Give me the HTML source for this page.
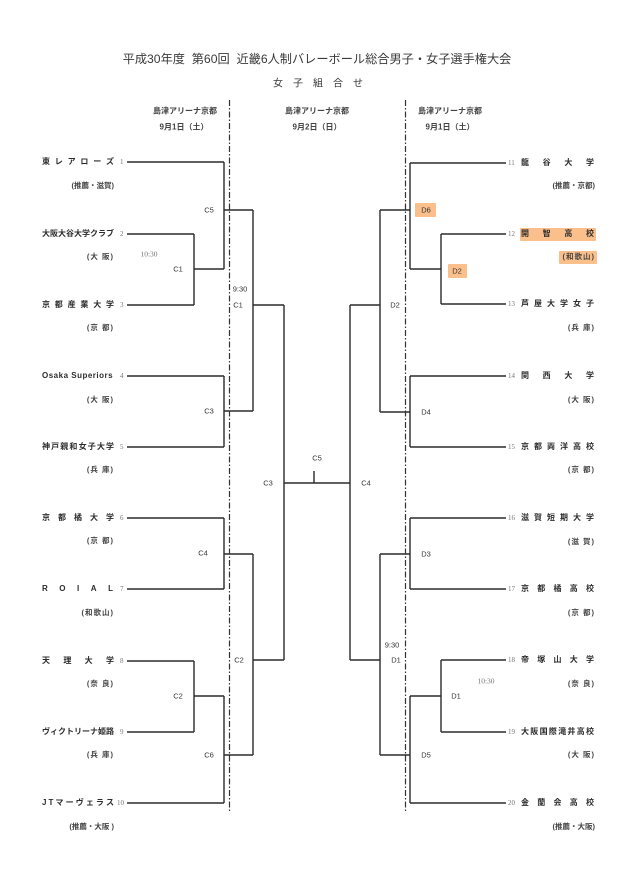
<!DOCTYPE html>
<html><head><meta charset="utf-8">
<style>
html,body{margin:0;padding:0;background:#fff;}
body{width:640px;height:887px;position:relative;overflow:hidden;font-family:"Liberation Sans","Noto Sans CJK JP",sans-serif;color:#333;}
.a{position:absolute;white-space:nowrap;}
.c{position:absolute;white-space:nowrap;transform:translate(-50%,-50%);}
.n{position:absolute;display:flex;justify-content:space-between;font-weight:bold;font-size:8px;height:10px;line-height:10px;color:#2d2d2d;white-space:nowrap;}
.nl{left:42px;width:72px;}
.nr{left:521px;width:73px;}
.num{position:absolute;font-family:"Liberation Serif",serif;font-size:7px;color:#777;height:10px;line-height:10px;}
.s{position:absolute;font-size:7.5px;font-weight:bold;color:#444;height:10px;line-height:10px;text-align:right;letter-spacing:1px;white-space:nowrap;}
.sl{right:526px;}
.sr{right:45px;}
.lb{position:absolute;white-space:nowrap;transform:translate(-50%,-50%);font-size:7.5px;color:#333;}
.tm{position:absolute;white-space:nowrap;transform:translate(-50%,-50%);font-size:7.5px;color:#777;font-family:"Liberation Serif",serif;}
.hl{position:absolute;background:#fbbf8c;border-radius:1px;}
</style></head><body>

<!-- highlights -->
<div class="hl" style="left:415px;top:203px;width:21px;height:14px;"></div>
<div class="hl" style="left:448px;top:264px;width:19px;height:14px;"></div>
<div class="hl" style="left:520px;top:228px;width:76px;height:13px;"></div>
<div class="hl" style="left:559px;top:251px;width:38px;height:13px;"></div>

<svg class="a" style="left:0;top:0" width="640" height="887" viewBox="0 0 640 887">
<g stroke="#2b2b2b" stroke-width="1.4" fill="none">
<!-- left team lines -->
<path d="M127 162H224 M127 234H194 M127 305H194 M127 376H224 M127 447H224 M127 518H224 M127 589H224 M127 661H194 M127 732H194 M127 803H224"/>
<path d="M194 234V305 M194 269H224 M224 162V269 M224 210H253"/>
<path d="M224 376V447 M224 411H253 M253 210V411 M253 305H284"/>
<path d="M224 518V589 M224 554H253 M194 661V732 M194 696H224 M224 696V803 M224 755H253 M253 554V755 M253 660H284"/>
<path d="M284 305V660 M284 483H350 M314 471V483"/>
<!-- right -->
<path d="M410 163H506 M441 234H506 M441 304H506 M410 376H506 M410 447H506 M410 518H506 M410 589H506 M441 660H506 M441 732H506 M410 803H506"/>
<path d="M441 234V304 M410 269H441 M410 163V269 M380 210H410"/>
<path d="M410 376V447 M380 412H410 M380 210V412 M350 305H380"/>
<path d="M410 518V589 M380 554H410 M441 660V732 M410 696H441 M410 696V803 M380 755H410 M380 554V755 M350 660H380"/>
<path d="M350 305V660"/>
</g>
<g stroke="#333" stroke-width="1.2" fill="none" stroke-dasharray="6 2 1.5 2">
<path d="M229.5 100V813 M405.5 100V813"/>
</g>
</svg>

<!-- header -->
<div class="c" style="left:317px;top:58px;font-size:12.2px;color:#3a3a3a;">平成30年度&nbsp; 第60回&nbsp; 近畿6人制バレーボール総合男子・女子選手権大会</div>
<div class="c" style="left:318px;top:82px;font-size:10px;color:#3a3a3a;letter-spacing:10px;padding-left:10px;">女子組合せ</div>

<div class="c" style="left:185px;top:111px;font-size:8px;font-weight:bold;color:#444;">島津アリーナ京都</div>
<div class="c" style="left:317px;top:111px;font-size:8px;font-weight:bold;color:#444;">島津アリーナ京都</div>
<div class="c" style="left:450px;top:111px;font-size:8px;font-weight:bold;color:#444;">島津アリーナ京都</div>
<div class="c" style="left:184px;top:127px;font-size:8px;font-weight:bold;color:#444;">9月1日（土）</div>
<div class="c" style="left:317px;top:127px;font-size:8px;font-weight:bold;color:#444;">9月2日（日）</div>
<div class="c" style="left:450px;top:127px;font-size:8px;font-weight:bold;color:#444;">9月1日（土）</div>

<!-- left teams -->
<div class="n nl" style="top:157px"><span>東</span><span>レ</span><span>ア</span><span>ロ</span><span>ー</span><span>ズ</span></div>
<div class="num" style="left:120px;top:157px">1</div>
<div class="s sl" style="top:181px;letter-spacing:0">(推薦・滋賀)</div>

<div class="n nl" style="top:229px"><span>大</span><span>阪</span><span>大</span><span>谷</span><span>大</span><span>学</span><span>ク</span><span>ラ</span><span>ブ</span></div>
<div class="num" style="left:120px;top:229px">2</div>
<div class="s sl" style="top:252px">(大 阪)</div>

<div class="n nl" style="top:300px"><span>京</span><span>都</span><span>産</span><span>業</span><span>大</span><span>学</span></div>
<div class="num" style="left:120px;top:300px">3</div>
<div class="s sl" style="top:323px">(京 都)</div>

<div class="n" style="left:42px;top:371px;letter-spacing:0.5px;display:block;width:auto;">Osaka Superiors</div>
<div class="num" style="left:120px;top:371px">4</div>
<div class="s sl" style="top:395px">(大 阪)</div>

<div class="n nl" style="top:442px"><span>神</span><span>戸</span><span>親</span><span>和</span><span>女</span><span>子</span><span>大</span><span>学</span></div>
<div class="num" style="left:120px;top:442px">5</div>
<div class="s sl" style="top:465px">(兵 庫)</div>

<div class="n nl" style="top:513px"><span>京</span><span>都</span><span>橘</span><span>大</span><span>学</span></div>
<div class="num" style="left:120px;top:513px">6</div>
<div class="s sl" style="top:536px">(京 都)</div>

<div class="n nl" style="top:584px;width:71px"><span>R</span><span>O</span><span>I</span><span>A</span><span>L</span></div>
<div class="num" style="left:120px;top:584px">7</div>
<div class="s sl" style="top:608px">(和歌山)</div>

<div class="n nl" style="top:656px"><span>天</span><span>理</span><span>大</span><span>学</span></div>
<div class="num" style="left:120px;top:656px">8</div>
<div class="s sl" style="top:679px">(奈 良)</div>

<div class="n nl" style="top:727px"><span>ヴ</span><span>ィ</span><span>ク</span><span>ト</span><span>リ</span><span>ー</span><span>ナ</span><span>姫</span><span>路</span></div>
<div class="num" style="left:120px;top:727px">9</div>
<div class="s sl" style="top:750px">(兵 庫)</div>

<div class="n nl" style="top:798px"><span>J</span><span>T</span><span>マ</span><span>ー</span><span>ヴ</span><span>ェ</span><span>ラ</span><span>ス</span></div>
<div class="num" style="left:117px;top:798px">10</div>
<div class="s sl" style="top:822px;letter-spacing:0">(推薦・大阪 )</div>

<!-- right teams -->
<div class="num" style="left:508px;top:158px">11</div>
<div class="n nr" style="top:158px"><span>龍</span><span>谷</span><span>大</span><span>学</span></div>
<div class="s sr" style="top:181px;letter-spacing:0">(推薦・京都)</div>

<div class="num" style="left:508px;top:229px">12</div>
<div class="n nr" style="top:229px"><span>開</span><span>智</span><span>高</span><span>校</span></div>
<div class="s sr" style="top:252px">(和歌山)</div>

<div class="num" style="left:508px;top:299px">13</div>
<div class="n nr" style="top:299px"><span>芦</span><span>屋</span><span>大</span><span>学</span><span>女</span><span>子</span></div>
<div class="s sr" style="top:323px">(兵 庫)</div>

<div class="num" style="left:508px;top:371px">14</div>
<div class="n nr" style="top:371px"><span>関</span><span>西</span><span>大</span><span>学</span></div>
<div class="s sr" style="top:395px">(大 阪)</div>

<div class="num" style="left:508px;top:442px">15</div>
<div class="n nr" style="top:442px"><span>京</span><span>都</span><span>両</span><span>洋</span><span>高</span><span>校</span></div>
<div class="s sr" style="top:465px">(京 都)</div>

<div class="num" style="left:508px;top:513px">16</div>
<div class="n nr" style="top:513px"><span>滋</span><span>賀</span><span>短</span><span>期</span><span>大</span><span>学</span></div>
<div class="s sr" style="top:537px">(滋 賀)</div>

<div class="num" style="left:508px;top:584px">17</div>
<div class="n nr" style="top:584px"><span>京</span><span>都</span><span>橘</span><span>高</span><span>校</span></div>
<div class="s sr" style="top:608px">(京 都)</div>

<div class="num" style="left:508px;top:655px">18</div>
<div class="n nr" style="top:655px"><span>帝</span><span>塚</span><span>山</span><span>大</span><span>学</span></div>
<div class="s sr" style="top:679px">(奈 良)</div>

<div class="num" style="left:508px;top:727px">19</div>
<div class="n nr" style="top:727px"><span>大</span><span>阪</span><span>国</span><span>際</span><span>滝</span><span>井</span><span>高</span><span>校</span></div>
<div class="s sr" style="top:750px">(大 阪)</div>

<div class="num" style="left:508px;top:798px">20</div>
<div class="n nr" style="top:798px"><span>金</span><span>蘭</span><span>会</span><span>高</span><span>校</span></div>
<div class="s sr" style="top:822px;letter-spacing:0">(推薦・大阪)</div>

<!-- match labels left -->
<div class="lb" style="left:209px;top:210px">C5</div>
<div class="tm" style="left:149px;top:254px">10:30</div>
<div class="lb" style="left:178px;top:269px">C1</div>
<div class="lb" style="left:240px;top:289px">9:30</div>
<div class="lb" style="left:238px;top:305px">C1</div>
<div class="lb" style="left:209px;top:411px">C3</div>
<div class="lb" style="left:268px;top:483px">C3</div>
<div class="lb" style="left:317px;top:458px">C5</div>
<div class="lb" style="left:203px;top:553px">C4</div>
<div class="lb" style="left:239px;top:660px">C2</div>
<div class="lb" style="left:178px;top:696px">C2</div>
<div class="lb" style="left:209px;top:755px">C6</div>

<!-- match labels right -->
<div class="lb" style="left:366px;top:483px">C4</div>
<div class="lb" style="left:426px;top:210px">D6</div>
<div class="lb" style="left:457px;top:271px">D2</div>
<div class="lb" style="left:395px;top:305px">D2</div>
<div class="lb" style="left:426px;top:412px">D4</div>
<div class="lb" style="left:426px;top:554px">D3</div>
<div class="lb" style="left:392px;top:645px">9:30</div>
<div class="lb" style="left:396px;top:660px">D1</div>
<div class="tm" style="left:486px;top:681px">10:30</div>
<div class="lb" style="left:456px;top:696px">D1</div>
<div class="lb" style="left:426px;top:755px">D5</div>

</body></html>
